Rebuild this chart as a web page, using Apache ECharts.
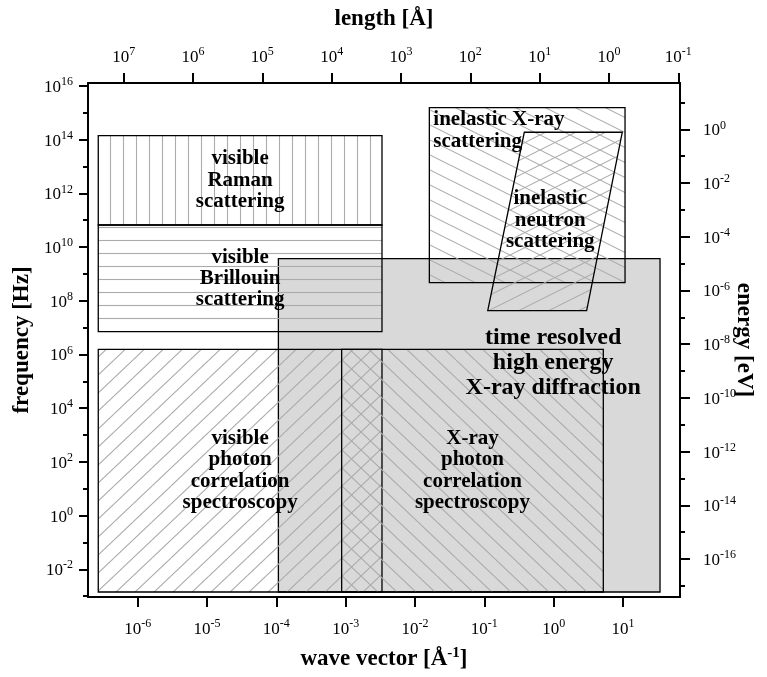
<!DOCTYPE html>
<html><head><meta charset="utf-8">
<script src="https://cdn.jsdelivr.net/npm/echarts@6/dist/echarts.min.js"></script>
<style>html,body{margin:0;padding:0;background:#fff}#c{width:767px;height:677px}</style>
</head><body><div id="c"></div>
<script>
// ---------- data ----------
// wave vector q in 1/Å, frequency f in Hz
const qRange = [1.92e-7, 66.4];
const fRange = [9.3e-4, 1.29e16];
const qTicks = [1e-6, 1e-5, 1e-4, 1e-3, 1e-2, 1e-1, 1e0, 1e1];
const lengthTicks = [1e7, 1e6, 1e5, 1e4, 1e3, 1e2, 1e1, 1e0, 1e-1];
const fTicks = [1e-2, 1e0, 1e2, 1e4, 1e6, 1e8, 1e10, 1e12, 1e14, 1e16];
const fMinorTicks = [1e-3, 1e-1, 1e1, 1e3, 1e5, 1e7, 1e9, 1e11, 1e13, 1e15];
const eTicks = [1e0, 1e-2, 1e-4, 1e-6, 1e-8, 1e-10, 1e-12, 1e-14, 1e-16];
const eMinorTicks = [1e1, 1e-1, 1e-3, 1e-5, 1e-7, 1e-9, 1e-11, 1e-13, 1e-15, 1e-17];
const H_EV = 4.135667e-15;   // Planck constant, eV*s  (E = h f)
const TWO_PI = 2 * Math.PI;  // length = 2*pi / q

const regionNames = [
  'time resolved\nhigh energy\nX-ray diffraction',
  'visible\nRaman\nscattering',
  'visible\nBrillouin\nscattering',
  'visible\nphoton\ncorrelation\nspectroscopy',
  'X-ray\nphoton\ncorrelation\nspectroscopy',
  'inelastic X-ray\nscattering'
];
const regionQMin = [1.07e-4, 2.70e-7, 2.70e-7, 2.70e-7, 8.75e-4, 1.61e-2];
const regionQMax = [34.2, 3.34e-3, 3.34e-3, 3.34e-3, 5.2, 10.7];
const regionFMin = [1.43e-3, 6.65e10, 7.06e6, 1.43e-3, 1.43e-3, 4.72e8];
const regionFMax = [3.70e9, 1.41e14, 6.65e10, 1.56e6, 1.56e6, 1.56e15];

const neutronName = 'inelastic\nneutron\nscattering';
const neutronQ = [0.377, 9.77, 2.99, 0.112];      // TL, TR, BR, BL
const neutronF = [1.89e14, 1.89e14, 4.28e7, 4.28e7];

// ---------- styles ----------
const FONT = '"Liberation Serif","Times New Roman",serif';
const HATCH = '#ababab';
const regionHatch = ['none', 'vertical', 'horizontal', 'slash', 'backslash', 'backslashShallow'];
const regionFontSize = [24, 21, 21, 21, 21, 21];
const regionLineHeight = [25, 21.5, 21, 21.5, 21.5, 21.7];
const regionLabelMode = ['offset', 'center', 'center', 'center', 'center', 'topleft'];
const regionLabelDx = [84, 0, 0, 0, 0, 4];
const regionLabelDy = [-63, 0, 0, 0, 0, 1.5];

function makeHatch(kind) {
  const c = document.createElement('canvas');
  let w, h;
  if (kind === 'vertical' || kind === 'horizontal') { w = 13; h = 13; }
  else if (kind === 'slash' || kind === 'backslash') { w = 19; h = 18; }
  else { w = 30; h = 15; }
  c.width = w; c.height = h;
  const ctx = c.getContext('2d');
  ctx.strokeStyle = HATCH; ctx.lineWidth = 1.1;
  ctx.beginPath();
  if (kind === 'vertical') { ctx.moveTo(6.5, 0); ctx.lineTo(6.5, h); }
  else if (kind === 'horizontal') { ctx.moveTo(0, 6.5); ctx.lineTo(w, 6.5); }
  else if (kind === 'slash' || kind === 'slashShallow') {
    for (let k = -1; k <= 1; k++) { ctx.moveTo(0, h + k * h); ctx.lineTo(w, k * h); }
  } else {
    for (let k = -1; k <= 1; k++) { ctx.moveTo(0, k * h); ctx.lineTo(w, h + k * h); }
  }
  ctx.stroke();
  return { image: c, repeat: 'repeat' };
}

function labelEl(text, x, y, size, lh, align, vAlign) {
  return {
    type: 'text', z2: 100, silent: true,
    style: { text: text, x: x, y: y, fill: '#000', font: 'bold ' + size + 'px ' + FONT,
             align: align, verticalAlign: vAlign, lineHeight: lh }
  };
}

const series = [];
regionNames.forEach(function (name, i) {
  series.push({
    type: 'custom', name: name, xAxisIndex: 0, yAxisIndex: 0,
    encode: { x: [0, 2], y: [1, 3] },
    data: [[regionQMin[i], regionFMin[i], regionQMax[i], regionFMax[i]]],
    renderItem: function (params, api) {
      const a = api.coord([api.value(0), api.value(3)]);
      const b = api.coord([api.value(2), api.value(1)]);
      const x = a[0], y = a[1], w = b[0] - a[0], h = b[1] - a[1];
      const fill = regionHatch[i] === 'none' ? '#d9d9d9' : makeHatch(regionHatch[i]);
      let lx, ly, al = 'center', va = 'middle';
      if (regionLabelMode[i] === 'topleft') { lx = x + regionLabelDx[i]; ly = y + regionLabelDy[i]; al = 'left'; va = 'top'; }
      else { lx = x + w / 2 + regionLabelDx[i]; ly = y + h / 2 + regionLabelDy[i]; }
      return {
        type: 'group',
        children: [
          { type: 'rect', shape: { x: x, y: y, width: w, height: h },
            style: { fill: fill, stroke: '#000', lineWidth: 1.3 } },
          labelEl(name, lx, ly, regionFontSize[i], regionLineHeight[i], al, va)
        ]
      };
    }
  });
});

series.push({
  type: 'custom', name: neutronName, xAxisIndex: 0, yAxisIndex: 0,
  encode: { x: [0, 2, 4, 6], y: [1, 3, 5, 7] },
  data: [[neutronQ[0], neutronF[0], neutronQ[1], neutronF[1], neutronQ[2], neutronF[2], neutronQ[3], neutronF[3]]],
  renderItem: function (params, api) {
    const pts = [];
    for (let k = 0; k < 4; k++) pts.push(api.coord([api.value(2 * k), api.value(2 * k + 1)]));
    let cx = 0, cy = 0;
    pts.forEach(function (p) { cx += p[0] / 4; cy += p[1] / 4; });
    return {
      type: 'group',
      children: [
        { type: 'polygon', shape: { points: pts },
          style: { fill: makeHatch('slashShallow'), stroke: '#000', lineWidth: 1.3 } },
        labelEl(neutronName, cx - 5, cy - 1, 21, 21.5, 'center', 'middle')
      ]
    };
  }
});

function supFmt(v) { return '{b|10}{s|' + Math.round(Math.log10(v)) + '}'; }
const tickRich = {
  b: { fontSize: 17, fontFamily: FONT, color: '#000', verticalAlign: 'bottom' },
  s: { fontSize: 12, fontFamily: FONT, color: '#000', verticalAlign: 'bottom', padding: [0, 0, 8, 0] }
};
const nameStyle = {
  fontSize: 23, fontWeight: 'bold', fontFamily: FONT, color: '#000',
  rich: {
    b: { fontSize: 23, fontWeight: 'bold', fontFamily: FONT, color: '#000', verticalAlign: 'bottom' },
    s: { fontSize: 15, fontWeight: 'bold', fontFamily: FONT, color: '#000', verticalAlign: 'bottom', padding: [0, 0, 10, 0] }
  }
};
const axisLine = { show: true, onZero: false, lineStyle: { color: '#000', width: 2 } };

function logAxis(opts) {
  const base = {
    type: 'log', logBase: 10, axisLine: axisLine, splitLine: { show: false },
    nameTextStyle: nameStyle, nameLocation: 'middle', nameMoveOverlap: false
  };
  return Object.assign(base, opts);
}

const option = {
  animation: false,
  backgroundColor: '#fff',
  grid: { left: 88, right: 87, top: 83, bottom: 80, containLabel: false, outerBoundsMode: 'none' },
  xAxis: [
    logAxis({
      position: 'bottom', min: qRange[0], max: qRange[1],
      name: '{b|wave vector [Å}{s|-1}{b|]}', nameGap: 49,
      axisTick: { customValues: qTicks, length: 10, lineStyle: { width: 2, color: '#000' } },
      axisLabel: { customValues: qTicks, margin: 21, formatter: supFmt, rich: tickRich }
    }),
    logAxis({
      position: 'top', inverse: true, min: TWO_PI / qRange[1], max: TWO_PI / qRange[0],
      name: '{b|length [Å]}', nameGap: 52,
      axisTick: { customValues: lengthTicks, length: 10, lineStyle: { width: 2, color: '#000' } },
      axisLabel: { customValues: lengthTicks, margin: 17, formatter: supFmt, rich: tickRich }
    })
  ],
  yAxis: [
    logAxis({
      position: 'left', min: fRange[0], max: fRange[1],
      name: '{b|frequency [Hz]}', nameGap: 54,
      axisTick: { customValues: fTicks, length: 9, lineStyle: { width: 2, color: '#000' } },
      axisLabel: { customValues: fTicks, margin: 15, formatter: supFmt, rich: tickRich }
    }),
    logAxis({
      position: 'right', min: H_EV * fRange[0], max: H_EV * fRange[1],
      name: '{b|energy [eV]}', nameGap: 52, nameRotate: -90,
      axisTick: { customValues: eTicks, length: 10, lineStyle: { width: 2, color: '#000' } },
      axisLabel: { customValues: eTicks, margin: 23, formatter: supFmt, rich: tickRich }
    }),
    logAxis({
      position: 'left', min: fRange[0], max: fRange[1],
      axisLine: { show: false },
      axisTick: { customValues: fMinorTicks, length: 5, lineStyle: { width: 2, color: '#000' } },
      axisLabel: { show: false }
    }),
    logAxis({
      position: 'right', min: H_EV * fRange[0], max: H_EV * fRange[1],
      axisLine: { show: false },
      axisTick: { customValues: eMinorTicks, length: 5, lineStyle: { width: 2, color: '#000' } },
      axisLabel: { show: false }
    })
  ],
  series: series
};

const chart = echarts.init(document.getElementById('c'), null, { renderer: 'canvas' });
chart.setOption(option);
</script>
</body></html>
